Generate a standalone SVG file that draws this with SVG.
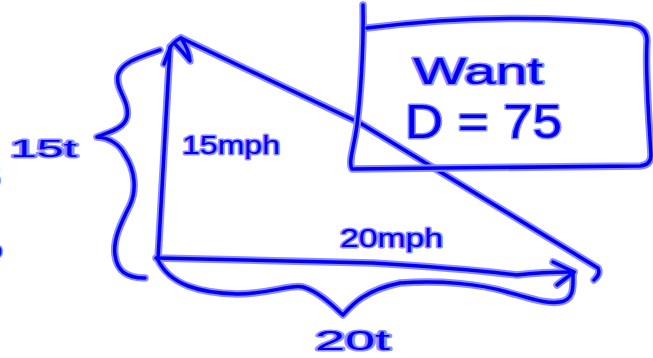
<svg xmlns="http://www.w3.org/2000/svg" xmlns:xlink="http://www.w3.org/1999/xlink" width="653" height="358" viewBox="0 0 653 358">
<style>
.h{fill:none;stroke:#8c8cff;stroke-width:7.5;stroke-linecap:round;stroke-linejoin:round}
.c{fill:none;stroke:#0000f5;stroke-width:3.5;stroke-linecap:round;stroke-linejoin:round}
.t{font-family:"Liberation Sans",Arial,sans-serif;fill:#0000f5;stroke:#8c8cff;stroke-width:3;paint-order:stroke;stroke-linejoin:round;lengthAdjust:spacingAndGlyphs}
</style>
<defs>
<path id="vert" d="M158,259 C161,200 166,120 170,47"/>
<path id="uphead" d="M164,64 L171,46 Q176,40 181,38 Q189,50 190,61 Q183,52 175,44"/>
<path id="hyp" d="M181,38 L360,123 L598,268 Q601,274 594,280"/>
<path id="horiz" d="M156,258 Q230,260 373,263 Q457,268 517,275 Q540,272 574,272"/>
<path id="rhead" d="M553,262 L574,272 L557,285"/>
<path id="bbrace" d="M158,260 C170,285 200,293 237,294 C270,294 290,284 303,287 C320,292 335,308 343,315 C352,305 365,290 400,283 C440,280 480,284 507,292 C530,298 545,304 560,302 C575,300 573,285 573,274"/>
<path id="lbrace" d="M160,50 C140,57 122,62 118,75 C115,90 130,100 127,117 C124,130 105,133 97,137 C110,138 120,145 125,155 C135,170 137,190 130,205 C120,225 113,240 115,255 C117,270 125,278 145,278"/>
<path id="box" d="M363,5 C364,50 360,100 357,125 C354,148 348,162 352,169 L640,166 Q651,165 651,155 C649,120 645,70 647,42 Q648,28 632,24 C560,17 470,15 367,28"/>
</defs>
<g id="connectors">
<use xlink:href="#vert" class="h"/><use xlink:href="#uphead" class="h"/><use xlink:href="#hyp" class="h"/><use xlink:href="#horiz" class="h"/><use xlink:href="#rhead" class="h"/><use xlink:href="#bbrace" class="h"/><use xlink:href="#lbrace" class="h"/>
<use xlink:href="#vert" class="c"/><use xlink:href="#uphead" class="c"/><use xlink:href="#hyp" class="c"/><use xlink:href="#horiz" class="c"/><use xlink:href="#rhead" class="c"/><use xlink:href="#bbrace" class="c"/><use xlink:href="#lbrace" class="c"/>
</g>
<g id="want-box">
<use xlink:href="#box" class="h"/><use xlink:href="#box" class="c"/>
<text class="t" x="413" y="84" font-size="36" textLength="130" lengthAdjust="spacingAndGlyphs">Want</text>
<text class="t" x="405" y="138" font-size="48" textLength="157" lengthAdjust="spacingAndGlyphs">D = 75</text>
</g>
<g id="labels">
<text class="t" x="10" y="157" font-size="24" textLength="67" lengthAdjust="spacingAndGlyphs">15t</text>
<text class="t" x="182" y="154" font-size="26" textLength="98" lengthAdjust="spacingAndGlyphs">15mph</text>
<text class="t" x="340" y="247" font-size="26" textLength="103" lengthAdjust="spacingAndGlyphs">20mph</text>
<text class="t" x="315" y="350" font-size="28" textLength="75" lengthAdjust="spacingAndGlyphs">20t</text>
<text class="t" x="-13" y="186" font-size="24">5</text>
<text class="t" x="-9" y="257" font-size="20">o</text>
</g>
</svg>
